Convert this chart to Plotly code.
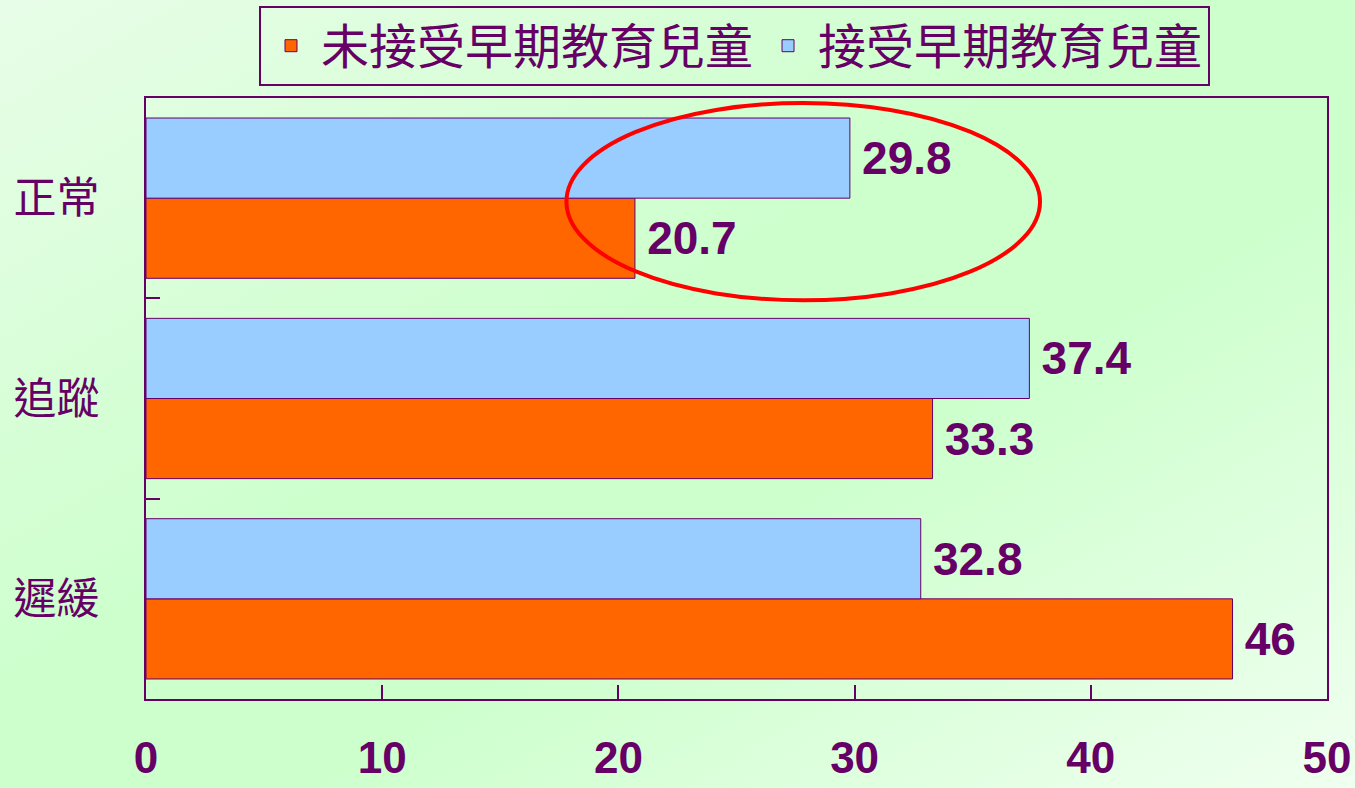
import base64
import plotly.graph_objects as go

categories = ["遲緩", "追蹤", "正常"]
no_early_ed = [46, 33.3, 20.7]
early_ed = [32.8, 37.4, 29.8]
series_names = ["未接受早期教育兒童", "接受早期教育兒童"]
x_ticks = [0, 10, 20, 30, 40, 50]

PURPLE = "#660066"
ORANGE = "#FF6600"
BLUE = "#99CCFF"
NUM_FONT = "Arial, 'Liberation Sans', sans-serif"
CJK_FONT = "'Noto Sans CJK TC', 'Noto Sans CJK SC', sans-serif"

W, H = 1355, 788
ML, MR, MT, MB = 146, 28, 98, 89
PW, PH = W - ML - MR, H - MT - MB

svg = f'''<svg xmlns="http://www.w3.org/2000/svg" width="{W}" height="{H}" viewBox="0 0 {W} {H}" preserveAspectRatio="none">
<defs><linearGradient id="g" x1="0" y1="0" x2="1" y2="1">
<stop offset="0" stop-color="#E8FDE8"/>
<stop offset="0.45" stop-color="#CCFFCC"/>
<stop offset="0.6" stop-color="#CCFFCC"/>
<stop offset="1" stop-color="#F0FFF0"/>
</linearGradient></defs>
<rect width="{W}" height="{H}" fill="url(#g)"/></svg>'''
bg_uri = "data:image/svg+xml;base64," + base64.b64encode(svg.encode()).decode()

def labels(vals):
    return ["\u2009" + f"{v:g}" for v in vals]

fig = go.Figure()
for name, vals, color in [(series_names[0], no_early_ed, ORANGE), (series_names[1], early_ed, BLUE)]:
    fig.add_trace(go.Bar(
        y=categories, x=vals, orientation="h", name=name,
        marker=dict(color=color, line=dict(color=PURPLE, width=1)),
        text=labels(vals), textposition="outside", constraintext="none",
        textfont=dict(family=NUM_FONT, size=46, color=PURPLE, weight="bold"),
        cliponaxis=False, hoverinfo="skip",
    ))

fig.add_shape(type="circle", xref="x", yref="y", x0=17.8, x1=37.85, y0=1.49, y1=2.475,
              line=dict(color="#FF0000", width=4), layer="above")

fig.add_layout_image(dict(
    source=bg_uri, xref="paper", yref="paper",
    x=-ML / PW, y=1 + MT / PH, sizex=W / PW, sizey=H / PH,
    xanchor="left", yanchor="top", sizing="stretch", layer="below",
))

fig.update_layout(
    width=W, height=H,
    margin=dict(l=ML, r=MR, t=MT, b=MB, pad=0, autoexpand=False),
    paper_bgcolor="#D6FFD6", plot_bgcolor="rgba(0,0,0,0)",
    barmode="group", bargap=0.2, bargroupgap=0,
    showlegend=True,
    legend=dict(
        orientation="h", x=(734.5 - ML) / PW, xanchor="center", y=1 + (MT - 6) / PH, yanchor="top",
        bgcolor="rgba(0,0,0,0)", bordercolor=PURPLE, borderwidth=2,
        font=dict(family=CJK_FONT, size=48, color=PURPLE),
        traceorder="normal", itemwidth=50,
    ),
    xaxis=dict(
        range=[0, 50], tickvals=x_ticks, ticktext=[str(t) for t in x_ticks],
        ticks="inside", ticklen=14, tickcolor=PURPLE, tickwidth=1.5,
        showgrid=False, zeroline=False, automargin=False,
        showline=True, linecolor=PURPLE, linewidth=2, mirror=True,
        tickfont=dict(family=NUM_FONT, size=44, color=PURPLE, weight="bold"),
        ticklabelstandoff=19,
    ),
    yaxis=dict(
        categoryorder="array", categoryarray=categories,
        ticks="inside", ticklen=14, tickcolor=PURPLE, tickwidth=1.5, tickson="boundaries",
        showgrid=False, zeroline=False, automargin=False,
        showline=True, linecolor=PURPLE, linewidth=2, mirror=True,
        tickfont=dict(family=CJK_FONT, size=43, color=PURPLE),
        ticklabelstandoff=36,
    ),
)

fig.write_html(
    "out.html",
    config={"displayModeBar": False},
    post_script="document.body.style.margin='0';document.body.style.overflow='hidden';",
)
